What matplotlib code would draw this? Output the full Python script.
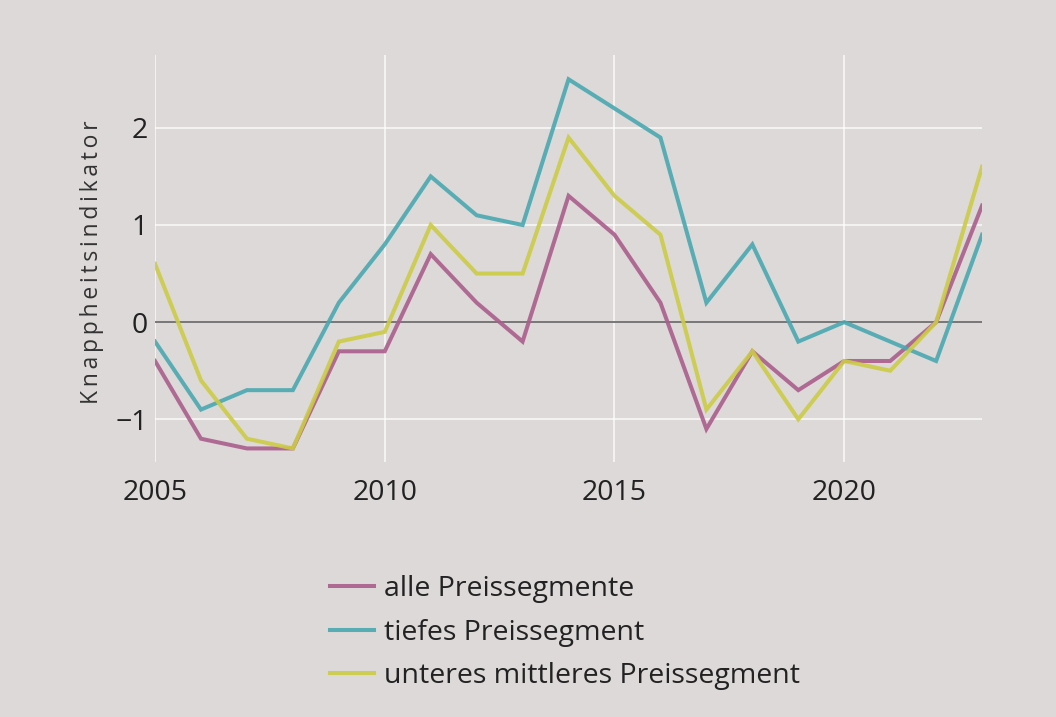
import numpy as np
import matplotlib.pyplot as plt

plt.rcParams['font.family'] = ['Open Sans', 'DejaVu Sans']

# Daten
jahre = np.arange(2005, 2024)
alle = [-0.4, -1.2, -1.3, -1.3, -0.3, -0.3, 0.7, 0.2, -0.2, 1.3,
        0.9, 0.2, -1.1, -0.3, -0.7, -0.4, -0.4, 0.0, 1.2]
tief = [-0.2, -0.9, -0.7, -0.7, 0.2, 0.8, 1.5, 1.1, 1.0, 2.5,
        2.2, 1.9, 0.2, 0.8, -0.2, 0.0, -0.2, -0.4, 0.9]
unteres = [0.6, -0.6, -1.2, -1.3, -0.2, -0.1, 1.0, 0.5, 0.5, 1.9,
           1.3, 0.9, -0.9, -0.3, -1.0, -0.4, -0.5, 0.0, 1.6]
namen = ["alle Preissegmente", "tiefes Preissegment", "unteres mittleres Preissegment"]
farben = ["#ab5e8c", "#4aa8b0", "#cccb45"]

bg = "#dcd9d8"
fig = plt.figure(figsize=(10.56, 7.17), dpi=100, facecolor=bg)
ax = fig.add_axes([0.1468, 0.3556, 0.7832, 0.5677], facecolor=bg)

for serie, name, farbe in zip([alle, tief, unteres], namen, farben):
    ax.plot(jahre, serie, color=farbe, lw=2.9, alpha=0.9, label=name,
            solid_joinstyle='miter')

ax.axhline(0, color="#555555", lw=1.1, zorder=1)
ax.set_xlim(2005, 2023)
ax.set_ylim(-1.44, 2.75)
ax.set_xticks([2005, 2010, 2015, 2020])
ax.set_yticks([-1, 0, 1, 2])
ax.set_yticklabels(["\u22121", "0", "1", "2"])
ax.grid(True, color="white", lw=1.2, alpha=0.8)
ax.set_axisbelow(True)
for s in ax.spines.values():
    s.set_visible(False)
ax.tick_params(length=0, labelsize=20.5, colors="#222222", pad=5)
ax.tick_params(axis='x', pad=12)
ax.set_ylabel("\u2009".join("Knappheitsindikator"), fontsize=16.5, color="#333333")
ax.yaxis.set_label_coords(-0.062, 0.49)

handles, labels = ax.get_legend_handles_labels()
fig.legend(handles, labels, loc="upper left", bbox_to_anchor=(0.3125, 0.198),
           frameon=False, fontsize=20.5, handlelength=1.56, handletextpad=0.35,
           labelspacing=0.55, labelcolor="#222222", borderpad=0, borderaxespad=0)

plt.savefig("out.png", dpi=100, facecolor=bg)
